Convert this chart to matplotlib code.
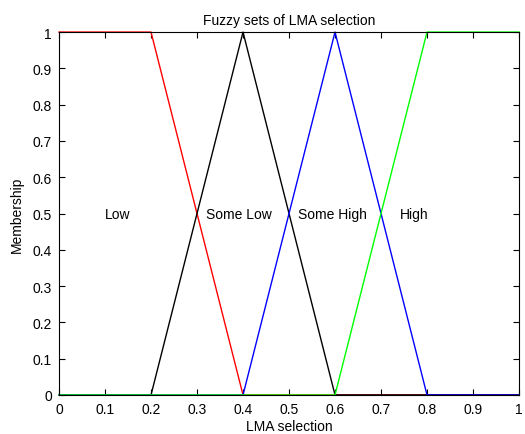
import matplotlib
matplotlib.use('Agg')
import matplotlib.pyplot as plt

plt.rcParams['font.family'] = ['Liberation Sans', 'DejaVu Sans']

# membership functions over LMA selection
x_low = [0, 0.2, 0.4, 1]
y_low = [1, 1, 0, 0]
x_some_low = [0, 0.2, 0.4, 0.6, 1]
y_some_low = [0, 0, 1, 0, 0]
x_some_high = [0, 0.4, 0.6, 0.8, 1]
y_some_high = [0, 0, 1, 0, 0]
x_high = [0, 0.6, 0.8, 1]
y_high = [0, 0, 1, 1]

labels = ['Low', 'Some Low', 'Some High', 'High']
label_x = [0.1, 0.32, 0.52, 0.74]

fig = plt.figure(figsize=(5.25, 4.35), dpi=100)
ax = fig.add_axes([0.1124, 0.0897, 0.8762, 0.8343])

ax.plot(x_low, y_low, color='#ff0000', lw=1, clip_on=False)
ax.plot(x_some_low, y_some_low, color='black', lw=1, clip_on=False)
ax.plot(x_some_high, y_some_high, color='#0000ff', lw=1, clip_on=False)
ax.plot(x_high, y_high, color='#00ff00', lw=1, clip_on=False)

for lab, lx in zip(labels, label_x):
    ax.text(lx, 0.5, lab, ha='left', va='center', fontsize=10)

ax.set_xlim(0, 1)
ax.set_ylim(0, 1)
ax.set_xticks([i / 10 for i in range(11)])
ax.set_yticks([i / 10 for i in range(11)])
ax.set_xticklabels(['0', '0.1', '0.2', '0.3', '0.4', '0.5', '0.6', '0.7', '0.8', '0.9', '1'])
ax.set_yticklabels(['0', '0.1', '0.2', '0.3', '0.4', '0.5', '0.6', '0.7', '0.8', '0.9', '1'])
ax.tick_params(direction='in', top=True, right=True, labelsize=10, length=4, width=0.8, pad=5)
for s in ax.spines.values():
    s.set_linewidth(0.8)
ax.set_title('Fuzzy sets of LMA selection', fontsize=10, pad=6)
ax.set_xlabel('LMA selection', fontsize=10, labelpad=2)
ax.set_ylabel('Membership', fontsize=10, labelpad=6)

fig.savefig('out.png', dpi=100)
